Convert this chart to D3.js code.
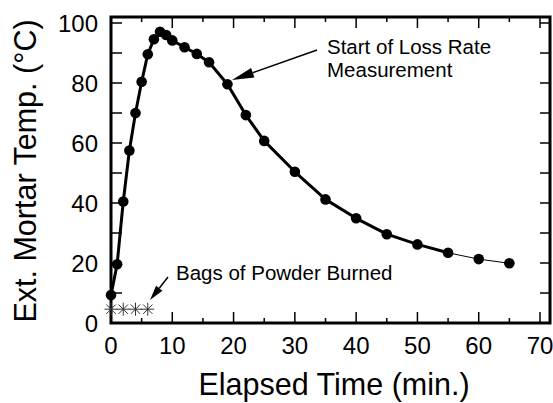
<!DOCTYPE html>
<html>
<head>
<meta charset="utf-8">
<script src="https://cdn.jsdelivr.net/npm/d3@7"></script>
<style>
  html, body { margin: 0; padding: 0; background: #fff; }
  svg { display: block; font-family: "Liberation Sans", Arial, Helvetica, sans-serif; }
</style>
</head>
<body>
<svg id="chart" width="553" height="403"></svg>
<script>
// Exterior mortar temperature after firing
const timeMin = [0, 1, 2, 3, 4, 5, 6, 7, 8, 9, 10, 12, 14, 16, 19, 22, 25, 30, 35, 40, 45, 50, 55];
const tempC   = [9.3, 19.6, 40.5, 57.5, 70, 80.4, 89.6, 94.6, 97.1, 96, 94.2, 91.9, 89.7, 86.9, 79.6, 69.3, 60.7, 50.4, 41.2, 34.9, 29.6, 26.2, 23.4];
// Later readings (thin connecting line)
const lateTime = [55, 60, 65];
const lateTemp = [23.4, 21.3, 19.9];
// Times the powder bags were burned
const bagTimes = [0, 2, 4, 6];
const bagLevel = 4.6;

const xTicks = [0, 10, 20, 30, 40, 50, 60, 70];
const yTicks = [0, 20, 40, 60, 80, 100];

const svg = d3.select("#chart");
const frame = { left: 111, right: 550, top: 17, bottom: 323 };

const x = d3.scaleLinear().domain([0, 70]).range([frame.left, 540]);
const y = d3.scaleLinear().domain([0, 100]).range([frame.bottom, 23]);

// inward ticks on all four sides
const g = svg.append("g").attr("stroke", "#000").attr("stroke-width", 1.5);
d3.range(0, 71, 5).forEach(v => {
  const len = v % 10 === 0 ? 11 : 5;
  g.append("line").attr("x1", x(v)).attr("x2", x(v)).attr("y1", frame.bottom).attr("y2", frame.bottom - len);
  g.append("line").attr("x1", x(v)).attr("x2", x(v)).attr("y1", frame.top).attr("y2", frame.top + len);
});
d3.range(10, 101, 10).forEach(v => {
  g.append("line").attr("x1", frame.left).attr("x2", frame.left + 11).attr("y1", y(v)).attr("y2", y(v));
  g.append("line").attr("x1", frame.right).attr("x2", frame.right - 10).attr("y1", y(v)).attr("y2", y(v));
});

// frame
svg.append("rect")
  .attr("x", frame.left).attr("y", frame.top)
  .attr("width", frame.right - frame.left).attr("height", frame.bottom - frame.top)
  .attr("fill", "none").attr("stroke", "#000").attr("stroke-width", 3);

// tick labels
svg.append("g").selectAll("text").data(xTicks).join("text")
  .attr("x", d => x(d)).attr("y", 354)
  .attr("text-anchor", "middle").attr("font-size", 24).attr("fill", "#000")
  .text(d => d);
svg.append("g").selectAll("text").data(yTicks).join("text")
  .attr("x", 98).attr("y", d => y(d) + 8.6)
  .attr("text-anchor", "end").attr("font-size", 24).attr("fill", "#000")
  .text(d => d);

// axis titles
svg.append("text").attr("x", 334).attr("y", 395)
  .attr("text-anchor", "middle").attr("font-size", 30.5).attr("fill", "#000")
  .text("Elapsed Time (min.)");
svg.append("text")
  .attr("transform", "translate(36,171) rotate(-90)")
  .attr("text-anchor", "middle").attr("font-size", 30.5).attr("fill", "#000")
  .text("Ext. Mortar Temp. (°C)");

// temperature curve
const line = d3.line().x(d => x(d[0])).y(d => y(d[1]));
const main = timeMin.map((t, i) => [t, tempC[i]]);
const late = lateTime.map((t, i) => [t, lateTemp[i]]);
svg.append("path").datum(late).attr("d", line)
  .attr("fill", "none").attr("stroke", "#000").attr("stroke-width", 1);
svg.append("path").datum(main).attr("d", line)
  .attr("fill", "none").attr("stroke", "#000").attr("stroke-width", 3).attr("stroke-linejoin", "round");
svg.append("g").selectAll("circle").data(main.concat(late.slice(1))).join("circle")
  .attr("cx", d => x(d[0])).attr("cy", d => y(d[1])).attr("r", 5.3).attr("fill", "#000");

// powder bag markers (asterisks)
const star = svg.append("g").attr("stroke", "#333").attr("stroke-width", 1);
bagTimes.forEach(t => {
  const cx = x(t), cy = y(bagLevel), r = 6.5, d = r * 0.72;
  star.append("line").attr("x1", cx - r).attr("x2", cx + r).attr("y1", cy).attr("y2", cy);
  star.append("line").attr("x1", cx).attr("x2", cx).attr("y1", cy - r).attr("y2", cy + r);
  star.append("line").attr("x1", cx - d).attr("x2", cx + d).attr("y1", cy - d).attr("y2", cy + d);
  star.append("line").attr("x1", cx - d).attr("x2", cx + d).attr("y1", cy + d).attr("y2", cy - d);
});

// annotation arrows
function arrow(x1, y1, x2, y2, headLen, headW) {
  const ang = Math.atan2(y2 - y1, x2 - x1);
  const bx = x2 - headLen * Math.cos(ang), by = y2 - headLen * Math.sin(ang);
  const px = -Math.sin(ang) * headW / 2, py = Math.cos(ang) * headW / 2;
  svg.append("line").attr("x1", x1).attr("y1", y1).attr("x2", bx).attr("y2", by)
    .attr("stroke", "#000").attr("stroke-width", 1.5);
  svg.append("path")
    .attr("d", `M${x2},${y2}L${bx + px},${by + py}L${bx - px},${by - py}Z`)
    .attr("fill", "#000");
}
arrow(317, 50, 232, 80, 22, 10);
arrow(168, 277, 150, 300, 15, 8);

// annotation text
const note = svg.append("g").attr("font-size", 20.5).attr("fill", "#000");
note.append("text").attr("x", 327).attr("y", 54).text("Start of Loss Rate");
note.append("text").attr("x", 327).attr("y", 77).text("Measurement");
note.append("text").attr("x", 176).attr("y", 279.5).text("Bags of Powder Burned");
</script>
</body>
</html>
